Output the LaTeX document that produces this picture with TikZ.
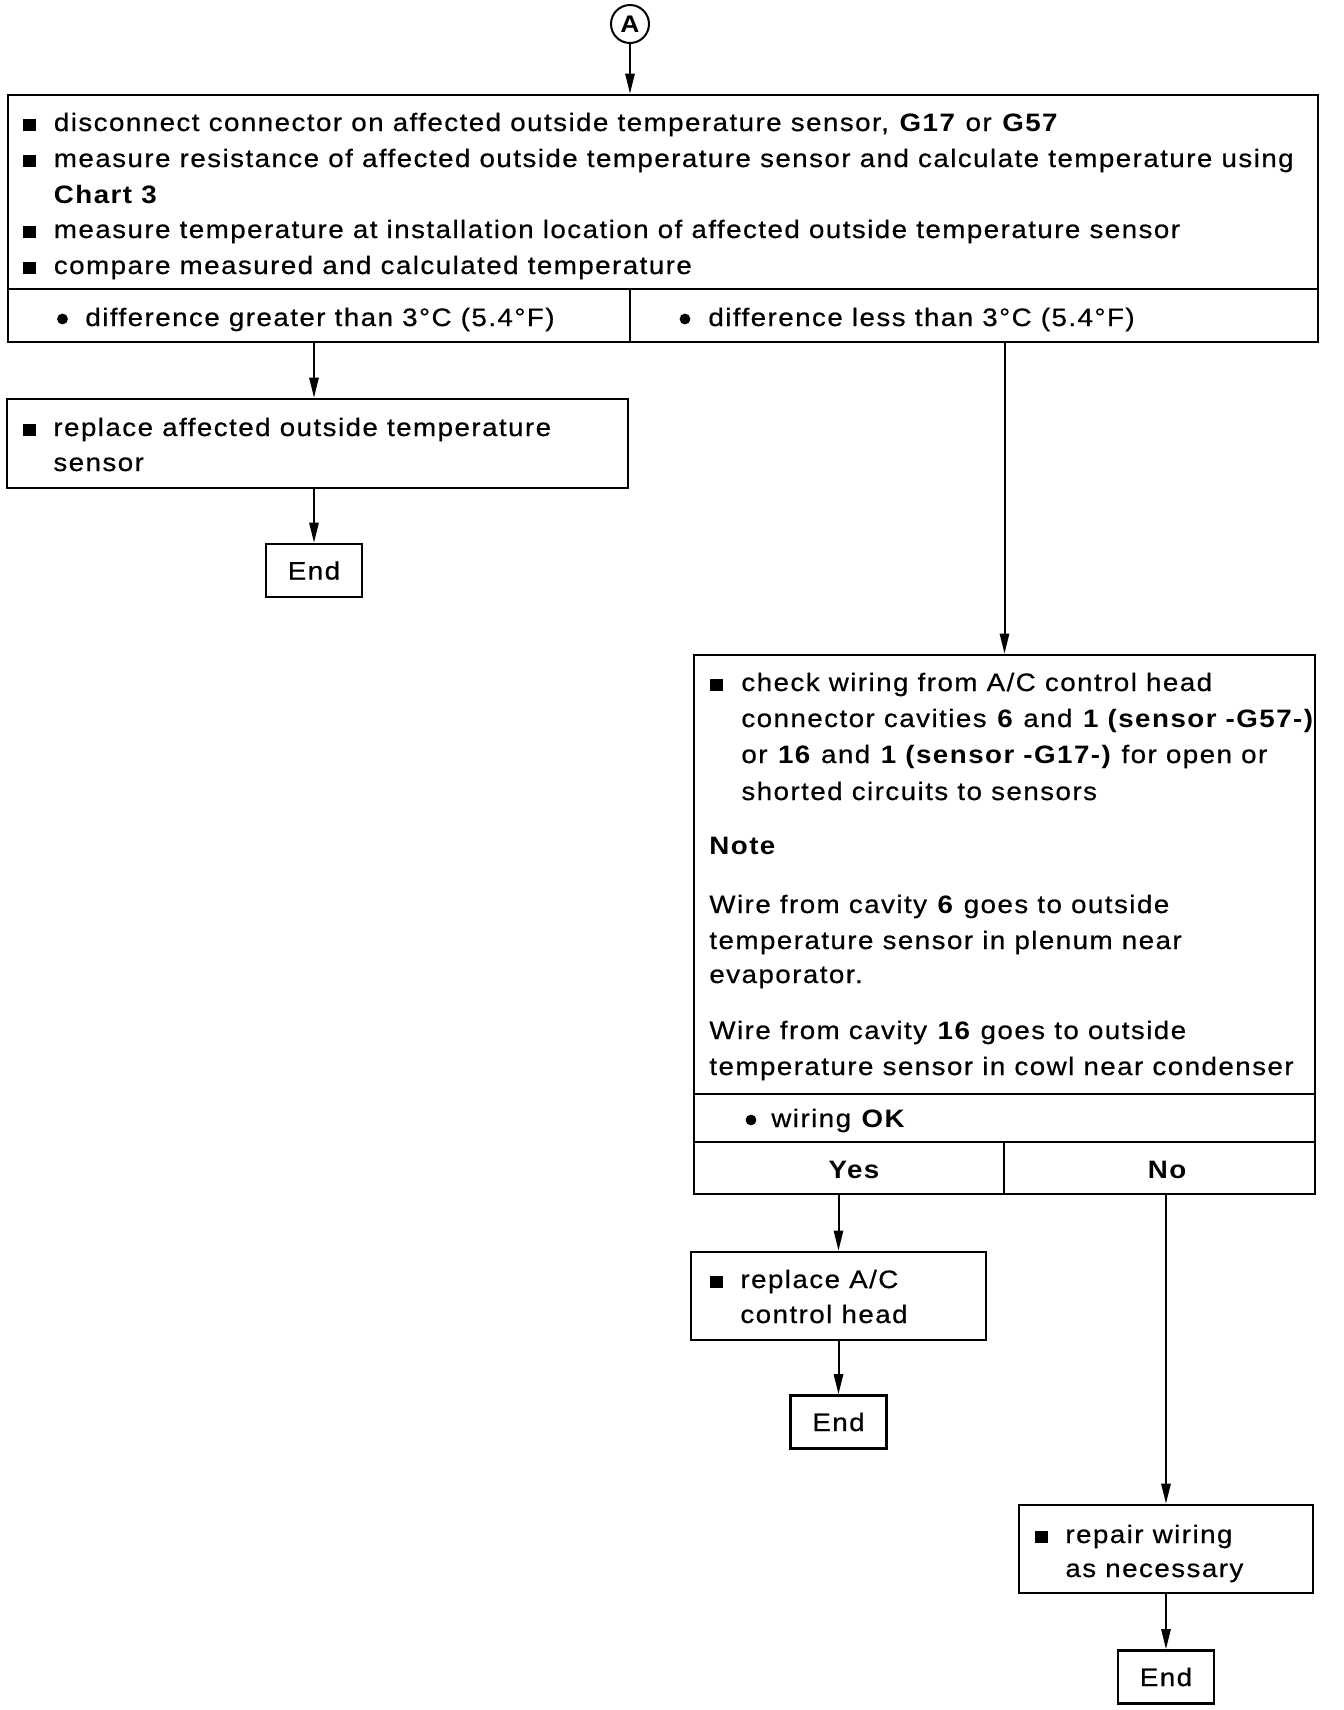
\documentclass[tikz,border=0pt]{standalone}
\usepackage{fontspec}
\setmainfont{Liberation Sans}[LetterSpace=5.8, FakeStretch=1.1, UprightFeatures={FakeBold=0.6}]
\usetikzlibrary{arrows.meta,fit}
\newcommand{\sqb}{\rule{6.2pt}{6.2pt}}
\newcommand{\fs}{\fontsize{12.6pt}{18pt}\selectfont}
\begin{document}
\begin{tikzpicture}[x=0.5pt,y=-0.5pt,
  box/.style={draw, line width=1.3pt, inner sep=0pt, font=\fs},
  endbox/.style={draw, line width=1.3pt, inner sep=0pt, font=\fs, minimum width=48pt, minimum height=26.5pt},
  txt/.style={anchor=base west, inner sep=0pt, font=\fs},
  ctxt/.style={anchor=base, inner sep=0pt, font=\fs\bfseries},
  rule/.style={line width=1.3pt},
  dot/.style={circle, fill, inner sep=0pt, minimum size=5.4pt},
  arr/.style={line width=1pt, -{Triangle[length=10pt,width=4.6pt]}}]
\useasboundingbox (0,0) rectangle (1344,1710);
% start
\node[draw, circle, line width=1pt, minimum size=19pt, inner sep=0pt, font=\fontsize{12pt}{12pt}\selectfont\bfseries] (A) at (630,24) {A};
% top box
\node[box, fit={(8,95) (1318,342)}] (top) {};
\draw[rule] (8,289) -- (1318,289);
\draw[rule] (630,289) -- (630,342);
\node[txt] (t1s) at (23,131) {\sqb};
\node[txt] (t1) at (53.5,131) {disconnect connector on affected outside temperature sensor, \textbf{G17} or \textbf{G57}};
\node[txt] (t2s) at (23,167) {\sqb};
\node[txt] (t2) at (53.5,167) {measure resistance of affected outside temperature sensor and calculate temperature using};
\node[txt] (t3) at (53.5,203) {\textbf{Chart 3}};
\node[txt] (t4s) at (23,238) {\sqb};
\node[txt] (t4) at (53.5,238) {measure temperature at installation location of affected outside temperature sensor};
\node[txt] (t5s) at (23,274) {\sqb};
\node[txt] (t5) at (53.5,274) {compare measured and calculated temperature};
\node[dot] (o1d) at (62.5,319) {};
\node[txt] (o1) at (85,326) {difference greater than 3°C (5.4°F)};
\node[dot] (o2d) at (685,319) {};
\node[txt] (o2) at (708,326) {difference less than 3°C (5.4°F)};
% left branch
\node[box, fit={(7,399) (628,488)}] (rep) {};
\node[txt] (r1s) at (23,436) {\sqb};
\node[txt] (r1) at (53,436) {replace affected outside temperature};
\node[txt] (r2) at (53,471) {sensor};
\node[endbox] (e1) at (314,570.5) {End};
% right branch: check box
\node[box, fit={(694,655) (1315,1194)}] (chk) {};
\node[txt] (c1s) at (710,691) {\sqb};
\node[txt] (c1) at (741,691) {check wiring from A/C control head};
\node[txt] (c2) at (741,727) {connector cavities \textbf{6} and \textbf{1 (sensor -G57-)}};
\node[txt] (c3) at (741,763) {or \textbf{16} and \textbf{1 (sensor -G17-)} for open or};
\node[txt] (c4) at (741,800) {shorted circuits to sensors};
\node[txt] (n0) at (709,854) {\textbf{Note}};
\node[txt] (n1) at (709,913) {Wire from cavity \textbf{6} goes to outside};
\node[txt] (n2) at (709,949) {temperature sensor in plenum near};
\node[txt] (n3) at (709,983) {evaporator.};
\node[txt] (n4) at (709,1039) {Wire from cavity \textbf{16} goes to outside};
\node[txt] (n5) at (709,1075) {temperature sensor in cowl near condenser};
\draw[rule] (694,1094) -- (1315,1094);
\node[dot] (wd) at (751,1120) {};
\node[txt] (w) at (771,1127) {wiring \textbf{OK}};
\draw[rule] (694,1142) -- (1315,1142);
\draw[rule] (1004,1142) -- (1004,1194);
\node[ctxt] (yes) at (854,1178) {Yes};
\node[ctxt] (no) at (1167,1178) {No};
% yes branch
\node[box, fit={(691,1252) (986,1340)}] (rac) {};
\node[txt] (a1s) at (710,1288) {\sqb};
\node[txt] (a1) at (740,1288) {replace A/C};
\node[txt] (a2) at (740,1323) {control head};
\node[endbox] (e2) at (838.5,1422) {End};
% no branch
\node[box, fit={(1019,1505) (1313,1593)}] (rw) {};
\node[txt] (w1s) at (1035,1543) {\sqb};
\node[txt] (w1) at (1065,1543) {repair wiring};
\node[txt] (w2) at (1065,1577) {as necessary};
\node[endbox] (e3) at (1166,1677) {End};
% connectors
\draw[arr] (A.south) -- (A.south |- top.north);
\draw[arr] (e1.north |- top.south) -- (e1.north |- rep.north);
\draw[arr] (e1.north |- rep.south) -- (e1.north);
\draw[arr] (chk.north |- top.south) -- (chk.north);
\draw[arr] (rac.north |- chk.south) -- (rac.north);
\draw[arr] (rac.south) -- (e2.north);
\draw[arr] (rw.north |- chk.south) -- (rw.north);
\draw[arr] (e3.north |- rw.south) -- (e3.north);
\end{tikzpicture}
\end{document}
